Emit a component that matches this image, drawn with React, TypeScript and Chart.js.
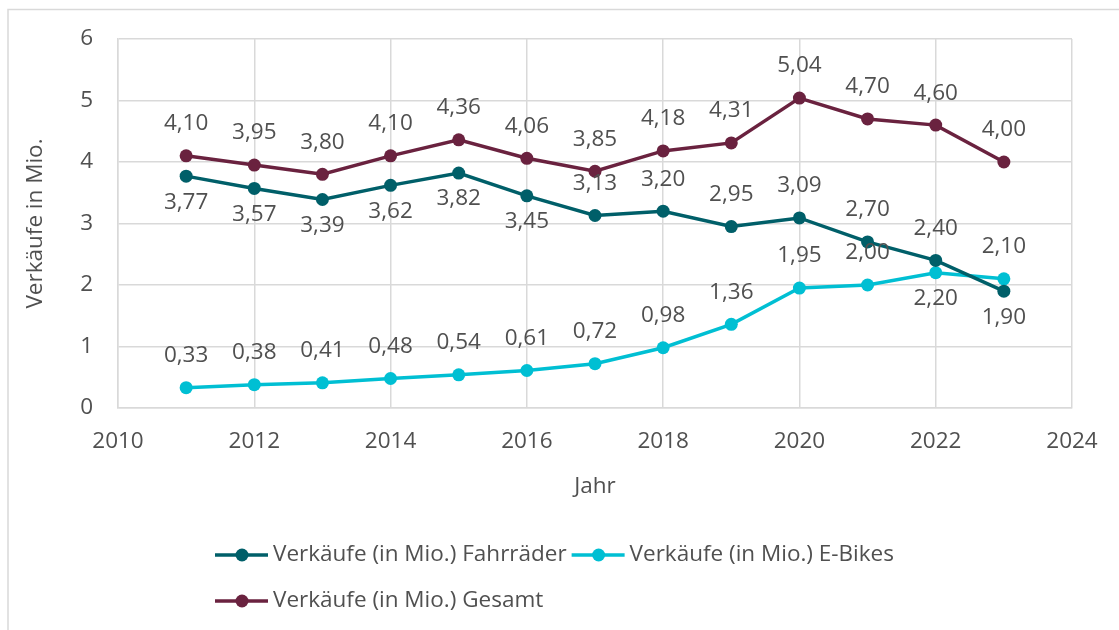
import React, { useEffect, useRef } from "react";
import { Chart, registerables } from "chart.js";

Chart.register(...registerables);

const years = [2011, 2012, 2013, 2014, 2015, 2016, 2017, 2018, 2019, 2020, 2021, 2022, 2023];
const fahrraeder = [3.77, 3.57, 3.39, 3.62, 3.82, 3.45, 3.13, 3.2, 2.95, 3.09, 2.7, 2.4, 1.9];
const eBikes = [0.33, 0.38, 0.41, 0.48, 0.54, 0.61, 0.72, 0.98, 1.36, 1.95, 2.0, 2.2, 2.1];
const gesamt = [4.1, 3.95, 3.8, 4.1, 4.36, 4.06, 3.85, 4.18, 4.31, 5.04, 4.7, 4.6, 4.0];
const seriesNames = [
  "Verkäufe (in Mio.) Fahrräder",
  "Verkäufe (in Mio.) E-Bikes",
  "Verkäufe (in Mio.) Gesamt",
];
const xTitle = "Jahr";
const yTitle = "Verkäufe in Mio.";

// label placement per point (a = above, b = below)
const fahrSide = ["b", "b", "b", "b", "b", "b", "a", "a", "a", "a", "a", "a", "b"];
const eBikeSide = ["a", "a", "a", "a", "a", "a", "a", "a", "a", "a", "a", "b", "a"];
const gesamtSide = ["a", "a", "a", "a", "a", "a", "a", "a", "a", "a", "a", "a", "a"];

const COLORS = ["#005F69", "#00BFD3", "#6A223F"];
const TEXT = "#505050";
const GRID = "#D9D9D9";
const FONT = "'Open Sans', 'Noto Sans', sans-serif";
const FS = 22.5;

const fmt = (v: number) => v.toFixed(2).replace(".", ",");

export default function App() {
  const ref = useRef<HTMLCanvasElement | null>(null);

  useEffect(() => {
    const canvas = ref.current;
    if (!canvas) return;
    const sides = [fahrSide, eBikeSide, gesamtSide];

    const extras = {
      id: "extras",
      beforeDraw(chart: any) {
        const ctx = chart.ctx;
        ctx.save();
        ctx.fillStyle = "#ffffff";
        ctx.fillRect(0, 0, chart.width, chart.height);
        ctx.strokeStyle = GRID;
        ctx.lineWidth = 1.5;
        ctx.beginPath();
        ctx.moveTo(8, 630);
        ctx.lineTo(8, 9.5);
        ctx.lineTo(1119, 9.5);
        ctx.stroke();
        ctx.restore();
      },
      afterDatasetsDraw(chart: any) {
        const ctx = chart.ctx;
        ctx.save();
        ctx.font = `${FS}px ${FONT}`;
        ctx.fillStyle = TEXT;
        ctx.textAlign = "center";
        ctx.textBaseline = "middle";
        chart.data.datasets.forEach((ds: any, di: number) => {
          const meta = chart.getDatasetMeta(di);
          meta.data.forEach((el: any, i: number) => {
            const side = sides[di][i];
            const dy = side === "a" ? -32 : 26;
            ctx.fillText(fmt(ds.data[i].y), el.x, el.y + dy);
          });
        });
        ctx.restore();
      },
      afterDraw(chart: any) {
        const ctx = chart.ctx;
        ctx.save();
        ctx.font = `${FS}px ${FONT}`;
        ctx.textBaseline = "middle";
        ctx.textAlign = "left";
        const drawItem = (x: number, y: number, idx: number) => {
          ctx.strokeStyle = COLORS[idx];
          ctx.lineWidth = 3.5;
          ctx.beginPath();
          ctx.moveTo(x, y);
          ctx.lineTo(x + 53, y);
          ctx.stroke();
          ctx.fillStyle = COLORS[idx];
          ctx.beginPath();
          ctx.arc(x + 27, y, 6.5, 0, Math.PI * 2);
          ctx.fill();
          ctx.fillStyle = TEXT;
          ctx.fillText(seriesNames[idx], x + 58, y);
          return x + 58 + ctx.measureText(seriesNames[idx]).width;
        };
        const x0 = 215;
        const end1 = drawItem(x0, 555, 0);
        drawItem(end1 + 5, 555, 1);
        drawItem(x0, 601, 2);
        ctx.restore();
      },
    };

    const mk = (arr: number[]) => years.map((y, i) => ({ x: y, y: arr[i] }));
    const dsBase = (idx: number, arr: number[]) => ({
      label: seriesNames[idx],
      data: mk(arr),
      borderColor: COLORS[idx],
      backgroundColor: COLORS[idx],
      borderWidth: 3.5,
      pointRadius: 6.5,
      pointBorderWidth: 0,
      pointHoverRadius: 6.5,
      tension: 0,
      fill: false,
    });

    const chart = new Chart(canvas, {
      type: "line",
      data: {
        datasets: [dsBase(0, fahrraeder), dsBase(1, eBikes), dsBase(2, gesamt)],
      },
      plugins: [extras],
      options: {
        responsive: false,
        animation: false,
        devicePixelRatio: 1,
        layout: { padding: { left: 0, top: 39, right: 47, bottom: 122 } },
        plugins: {
          legend: { display: false },
          tooltip: { enabled: false },
          title: { display: false },
        },
        scales: {
          x: {
            type: "linear",
            min: 2010,
            max: 2024,
            ticks: {
              stepSize: 2,
              color: TEXT,
              font: { family: FONT, size: FS },
              padding: 20,
              maxRotation: 0,
              callback: (v: any) => String(v),
            },
            grid: { color: GRID, lineWidth: 1.5, drawTicks: false },
            border: { color: GRID, width: 1.5 },
            title: {
              display: true,
              text: xTitle,
              color: TEXT,
              font: { family: FONT, size: FS },
              padding: { top: 0, bottom: 8 },
            },
            afterFit: (s: any) => {
              s.height = 100;
            },
          },
          y: {
            min: 0,
            max: 6,
            ticks: {
              stepSize: 1,
              color: TEXT,
              font: { family: FONT, size: FS },
              padding: 25,
              callback: (v: any) => String(v),
            },
            grid: { color: GRID, lineWidth: 1.5, drawTicks: false },
            border: { color: GRID, width: 1.5 },
            title: {
              display: true,
              text: yTitle,
              color: TEXT,
              font: { family: FONT, size: FS },
              padding: { top: 22, bottom: 0 },
            },
            afterFit: (s: any) => {
              s.width = 118;
            },
          },
        },
      } as any,
    });
    return () => chart.destroy();
  }, []);

  return (
    <canvas
      ref={ref}
      width={1119}
      height={630}
      style={{ position: "absolute", left: 0, top: 0, width: 1119, height: 630 }}
    />
  );
}
